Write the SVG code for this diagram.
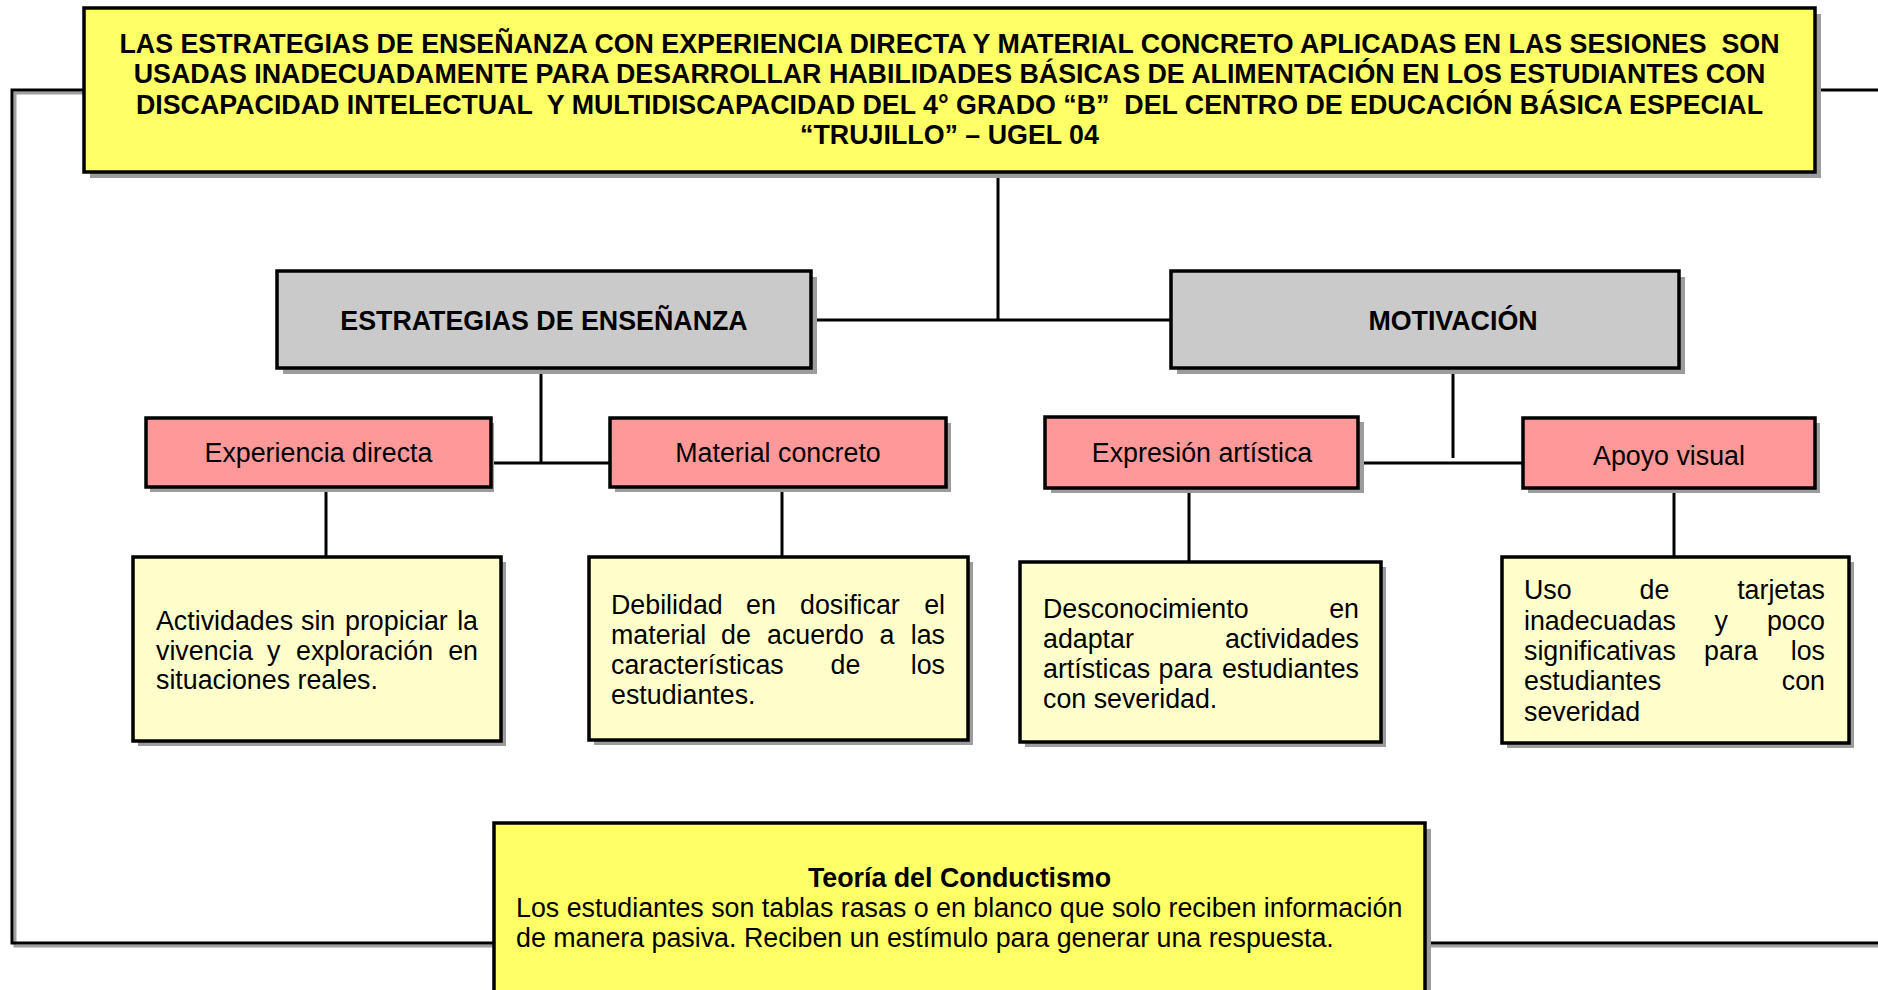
<svg xmlns="http://www.w3.org/2000/svg" width="1878" height="990" viewBox="0 0 1878 990">
<style>
text{font-family:"Liberation Sans",Arial,sans-serif;fill:#000;font-size:26.8px;white-space:pre}
.b{font-weight:bold}
.box{stroke:#000;stroke-width:3.5}
.sh{fill:#9c9c9c}
.y{fill:#FFFF66}
.g{fill:#CACACA}
.p{fill:#FF9999}
.ly{fill:#FFFFCC}
.c{fill:none;stroke:#000;stroke-width:3}
.cs{fill:none;stroke:#a0a0a0;stroke-width:3}
</style>
<g id="connectors">
<polyline class="cs" points="84,93 15,93 15,946 494,946"/>
<line class="cs" x1="1425" y1="946" x2="1878" y2="946"/>
<polyline class="c" points="84,90 12,90 12,943 494,943"/>
<line class="c" x1="1815" y1="90" x2="1878" y2="90"/>
<line class="c" x1="1425" y1="943" x2="1878" y2="943"/>
<line class="c" x1="998" y1="172" x2="998" y2="320"/>
<line class="c" x1="811" y1="320" x2="1171" y2="320"/>
<line class="c" x1="541" y1="368" x2="541" y2="463"/>
<line class="c" x1="491" y1="463" x2="610" y2="463"/>
<line class="c" x1="1453" y1="368" x2="1453" y2="458"/>
<line class="c" x1="1358" y1="463" x2="1523" y2="463"/>
<line class="c" x1="326" y1="487" x2="326" y2="557"/>
<line class="c" x1="782" y1="487" x2="782" y2="557"/>
<line class="c" x1="1189" y1="488" x2="1189" y2="562"/>
<line class="c" x1="1674" y1="488" x2="1674" y2="557"/>
</g>
<g id="title">
<rect class="sh" x="90" y="14" width="1731" height="164"/>
<rect class="box y" x="84" y="8" width="1731" height="164"/>
<text class="b" x="949.5" y="52.5" text-anchor="middle">LAS ESTRATEGIAS DE ENSEÑANZA CON EXPERIENCIA DIRECTA Y MATERIAL CONCRETO APLICADAS EN LAS SESIONES  SON</text>
<text class="b" x="949.5" y="83" text-anchor="middle">USADAS INADECUADAMENTE PARA DESARROLLAR HABILIDADES BÁSICAS DE ALIMENTACIÓN EN LOS ESTUDIANTES CON</text>
<text class="b" x="949.5" y="113.5" text-anchor="middle">DISCAPACIDAD INTELECTUAL  Y MULTIDISCAPACIDAD DEL 4° GRADO “B”  DEL CENTRO DE EDUCACIÓN BÁSICA ESPECIAL</text>
<text class="b" x="949.5" y="144" text-anchor="middle">“TRUJILLO” – UGEL 04</text>
</g>
<g id="estrategias">
<rect class="sh" x="283" y="277" width="534" height="97"/>
<rect class="box g" x="277" y="271" width="534" height="97"/>
<text class="b" x="544" y="329.5" text-anchor="middle">ESTRATEGIAS DE ENSEÑANZA</text>
</g>
<g id="motivacion">
<rect class="sh" x="1177" y="277" width="508" height="97"/>
<rect class="box g" x="1171" y="271" width="508" height="97"/>
<text class="b" x="1453" y="329.5" text-anchor="middle">MOTIVACIÓN</text>
</g>
<g id="experiencia">
<rect class="sh" x="150" y="423" width="344" height="69"/>
<rect class="box p" x="146" y="418" width="345" height="69"/>
<text x="318.5" y="462" text-anchor="middle">Experiencia directa</text>
</g>
<g id="material">
<rect class="sh" x="615" y="423" width="336" height="69"/>
<rect class="box p" x="610" y="418" width="336" height="69"/>
<text x="778" y="462" text-anchor="middle">Material concreto</text>
</g>
<g id="expresion">
<rect class="sh" x="1051" y="422" width="313" height="71"/>
<rect class="box p" x="1045" y="417" width="313" height="71"/>
<text x="1202" y="462" text-anchor="middle">Expresión artística</text>
</g>
<g id="apoyo">
<rect class="sh" x="1528" y="423" width="292" height="70"/>
<rect class="box p" x="1523" y="418" width="292" height="70"/>
<text x="1669" y="464.5" text-anchor="middle">Apoyo visual</text>
</g>
<g id="box1">
<rect class="sh" x="138" y="562" width="368" height="184"/>
<rect class="box ly" x="133" y="557" width="368" height="184"/>
<text y="630"><tspan x="156">Actividades</tspan><tspan x="301">sin</tspan><tspan x="345">propiciar</tspan></text><text x="478" y="630" text-anchor="end">la</text>
<text y="659.5"><tspan x="156">vivencia</tspan><tspan x="267">y</tspan><tspan x="296">exploración</tspan></text><text x="478" y="659.5" text-anchor="end">en</text>
<text x="156" y="689">situaciones reales.</text>
</g>
<g id="box2">
<rect class="sh" x="594" y="562" width="379" height="183"/>
<rect class="box ly" x="589" y="557" width="379" height="183"/>
<text y="614"><tspan x="611">Debilidad</tspan><tspan x="746">en</tspan><tspan x="800">dosificar</tspan></text><text x="945" y="614" text-anchor="end">el</text>
<text y="644"><tspan x="611">material</tspan><tspan x="721">de</tspan><tspan x="767">acuerdo</tspan><tspan x="879.5">a</tspan></text><text x="945" y="644" text-anchor="end">las</text>
<text y="674"><tspan x="611">características</tspan><tspan x="830.5">de</tspan></text><text x="945" y="674" text-anchor="end">los</text>
<text x="611" y="704">estudiantes.</text>
</g>
<g id="box3">
<rect class="sh" x="1025" y="567" width="361" height="180"/>
<rect class="box ly" x="1020" y="562" width="361" height="180"/>
<text x="1043" y="618">Desconocimiento</text><text x="1359" y="618" text-anchor="end">en</text>
<text x="1043" y="648">adaptar</text><text x="1359" y="648" text-anchor="end">actividades</text>
<text y="678"><tspan x="1043">artísticas</tspan><tspan x="1158.5">para</tspan></text><text x="1359" y="678" text-anchor="end">estudiantes</text>
<text x="1043" y="708">con severidad.</text>
</g>
<g id="box4">
<rect class="sh" x="1507" y="562" width="347" height="186"/>
<rect class="box ly" x="1502" y="557" width="347" height="186"/>
<text y="599"><tspan x="1524">Uso</tspan><tspan x="1639.5">de</tspan></text><text x="1825" y="599" text-anchor="end">tarjetas</text>
<text y="630"><tspan x="1524">inadecuadas</tspan><tspan x="1714.5">y</tspan></text><text x="1825" y="630" text-anchor="end">poco</text>
<text y="660"><tspan x="1524">significativas</tspan><tspan x="1704">para</tspan></text><text x="1825" y="660" text-anchor="end">los</text>
<text x="1524" y="690">estudiantes</text><text x="1825" y="690" text-anchor="end">con</text>
<text x="1524" y="721">severidad</text>
</g>
<g id="teoria">
<rect class="sh" x="500" y="829" width="931" height="200"/>
<rect class="box y" x="494" y="823" width="931" height="200"/>
<text class="b" x="959.5" y="887" text-anchor="middle">Teoría del Conductismo</text>
<text x="516" y="917">Los estudiantes son tablas rasas o en blanco que solo reciben información</text>
<text x="516" y="947">de manera pasiva. Reciben un estímulo para generar una respuesta.</text>
</g>
</svg>
